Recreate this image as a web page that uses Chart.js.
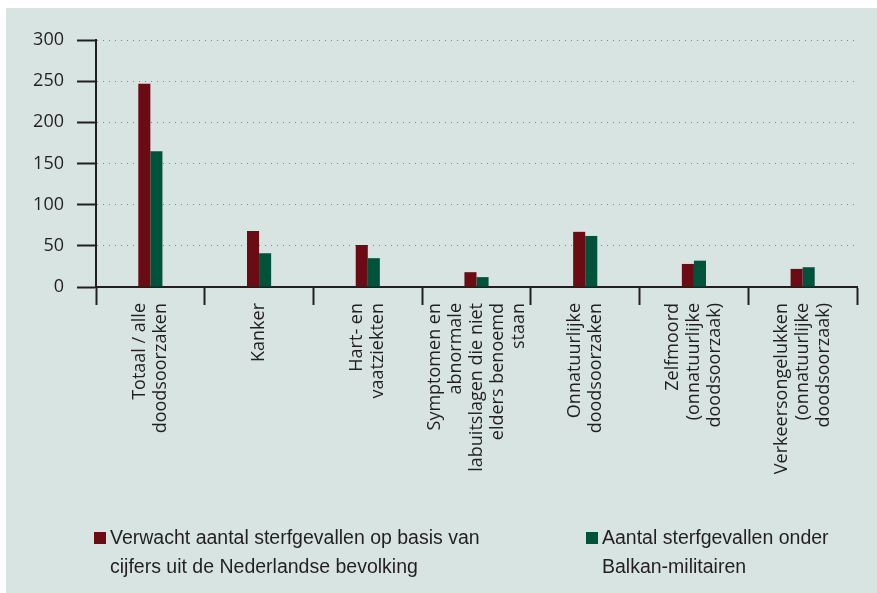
<!DOCTYPE html>
<html lang="nl">
<head>
    <meta charset="utf-8">
    <title>Sterfgevallen Balkan-militairen</title>
    <script src="https://cdn.jsdelivr.net/npm/chart.js"></script>
    <style>
        body {
            margin: 0;
            background: #fff;
            font-family: 'Open Sans', sans-serif;
            color: #231f20;
            overflow: hidden;
        }

        .panel {
            position: absolute;
            left: 6px;
            top: 8px;
            width: 871px;
            height: 585px;
            background: #d8e4e1;
        }

        .chart-box {
            position: absolute;
            left: 0;
            top: 0;
            width: 877px;
            height: 593px;
        }

        .legend-item {
            position: absolute;
            font-family: 'Liberation Sans', sans-serif;
            font-size: 19.5px;
            line-height: 29px;
            color: #231f20;
        }

        .legend-item .box {
            position: absolute;
            left: -16px;
            top: 9px;
            width: 12px;
            height: 12px;
        }
    </style>
</head>
<body>
<div class="panel"></div>
<div class="chart-box">
    <canvas id="deathChart"></canvas>
</div>
<div class="legend-item" style="left:110px; top:523px;">
    <span class="box" style="background:#6b0c14"></span>
    Verwacht aantal sterfgevallen op basis van<br>cijfers uit de Nederlandse bevolking
</div>
<div class="legend-item" style="left:602px; top:523px;">
    <span class="box" style="background:#00533b"></span>
    Aantal sterfgevallen onder<br>Balkan-militairen
</div>

<script>
    // categorieën (regels zoals in de figuur)
    const categories = [
        ['Totaal / alle', 'doodsoorzaken'],
        ['Kanker'],
        ['Hart- en', 'vaatziekten'],
        ['Symptomen en', 'abnormale', 'labuitslagen die niet', 'elders benoemd', 'staan'],
        ['Onnatuurlijke', 'doodsoorzaken'],
        ['Zelfmoord', '(onnatuurlijke', 'doodsoorzaak)'],
        ['Verkeersongelukken', '(onnatuurlijke', 'doodsoorzaak)']
    ];
    const seriesNames = [
        'Verwacht aantal sterfgevallen op basis van cijfers uit de Nederlandse bevolking',
        'Aantal sterfgevallen onder Balkan-militairen'
    ];
    const expected = [247, 68, 51, 18, 67, 28, 22];
    const observed = [165, 41, 35, 12, 62, 32, 24];
    const yTicks = [0, 50, 100, 150, 200, 250, 300];

    const axisColor = '#231f20';

    // x-labels zelf tekenen zodat meerregelige labels gecentreerd blijven
    const xLabelPlugin = {
        id: 'xLabels',
        afterDraw(chart) {
            const ctx = chart.ctx;
            const xs = chart.scales.x;
            ctx.save();
            ctx.font = '18px "Open Sans"';
            ctx.fillStyle = axisColor;
            ctx.textAlign = 'right';
            ctx.textBaseline = 'middle';
            categories.forEach((lines, i) => {
                const cx = xs.getPixelForValue(i);
                ctx.save();
                ctx.translate(cx, xs.top + 16);
                ctx.rotate(-Math.PI / 2);
                lines.forEach((ln, j) => {
                    ctx.fillText(ln, 0, (j - (lines.length - 1) / 2) * 21);
                });
                ctx.restore();
            });
            ctx.restore();
        }
    };

    new Chart(document.getElementById('deathChart'), {
        type: 'bar',
        data: {
            labels: categories.map(c => c.join(' ')),
            datasets: [
                { label: seriesNames[0], data: expected, backgroundColor: '#6b0c14' },
                { label: seriesNames[1], data: observed, backgroundColor: '#00533b' }
            ]
        },
        options: {
            responsive: true,
            maintainAspectRatio: false,
            animation: false,
            layout: { padding: { left: 0, top: 40, right: 20, bottom: 286 } },
            datasets: { bar: { categoryPercentage: 0.222, barPercentage: 1 } },
            plugins: {
                legend: { display: false },
                tooltip: { enabled: false }
            },
            scales: {
                x: {
                    grid: {
                        offset: true,
                        drawOnChartArea: false,
                        tickLength: 18,
                        tickWidth: 2,
                        tickColor: axisColor
                    },
                    border: { color: axisColor, width: 2 },
                    ticks: { display: false },
                    afterFit: s => { s.height = 20; }
                },
                y: {
                    min: 0,
                    max: 300,
                    afterBuildTicks: s => { s.ticks = yTicks.map(v => ({ value: v })); },
                    ticks: {
                        padding: 13,
                        color: axisColor,
                        font: { family: 'Open Sans', size: 18 }
                    },
                    grid: {
                        color: '#7d8884',
                        lineWidth: 1,
                        tickLength: 19,
                        tickWidth: 2,
                        tickColor: axisColor,
                        tickBorderDash: []
                    },
                    border: { color: axisColor, width: 2, dash: [1, 5] },
                    afterFit: s => { s.width = 96; }
                }
            }
        },
        plugins: [xLabelPlugin]
    });
</script>
</body>
</html>
